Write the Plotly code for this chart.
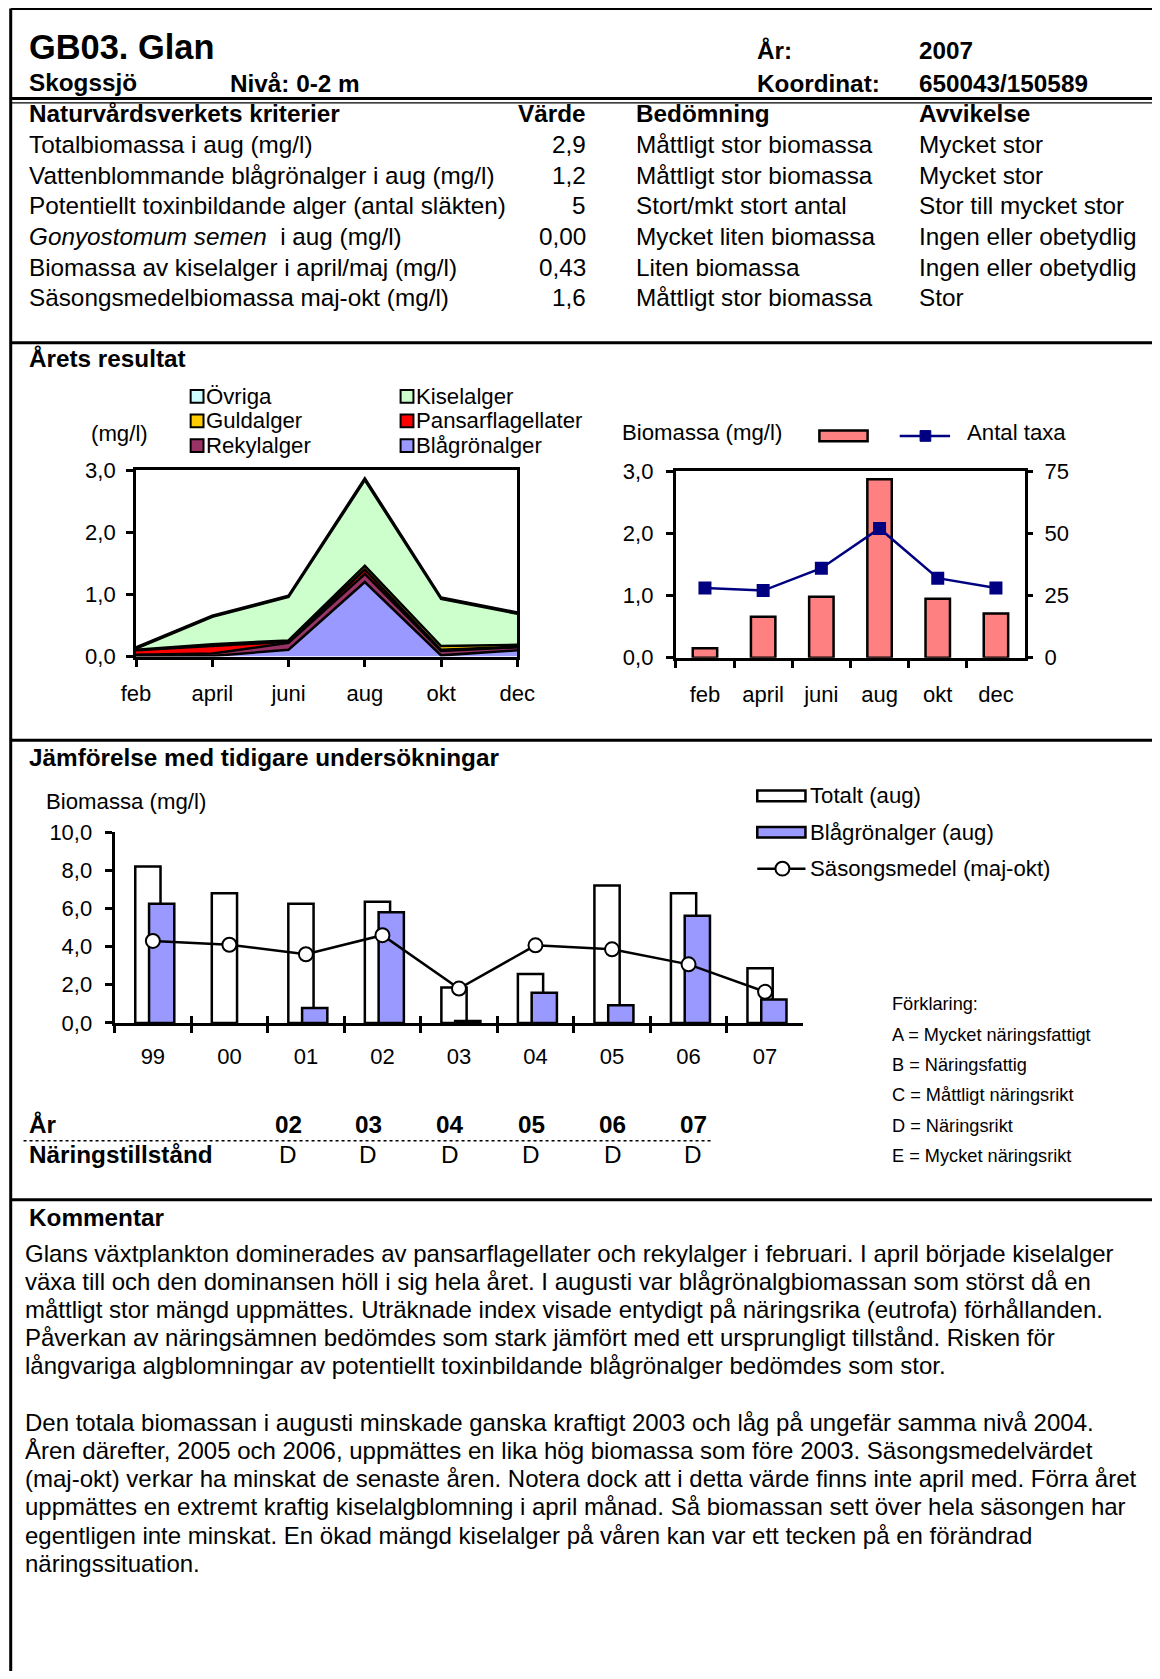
import plotly.graph_objects as go

# ---------------- data ----------------
months = ["feb", "april", "juni", "aug", "okt", "dec"]
# stacked biomass per group (mg/l), bottom -> top
series_names = ["Blågrönalger", "Rekylalger", "Pansarflagellater", "Guldalger", "Kiselalger", "Övriga"]
series_colors = ["#9999FF", "#993366", "#FF0000", "#FFCC00", "#CCFFCC", "#CCFFFF"]
blagronalger = [0.00, 0.01, 0.11, 1.20, 0.02, 0.10]
rekylalger = [0.03, 0.04, 0.11, 0.13, 0.07, 0.05]
pansarflagellater = [0.07, 0.12, 0.02, 0.07, 0.02, 0.01]
guldalger = [0.01, 0.03, 0.02, 0.06, 0.06, 0.03]
kiselalger = [0.02, 0.44, 0.70, 1.38, 0.76, 0.50]
ovriga = [0.02, 0.02, 0.02, 0.03, 0.02, 0.02]
series_values = [blagronalger, rekylalger, pansarflagellater, guldalger, kiselalger, ovriga]

total_biomassa = [0.15, 0.66, 0.98, 2.87, 0.95, 0.71]
antal_taxa = [28, 27, 36, 52, 32, 28]

years = ["99", "00", "01", "02", "03", "04", "05", "06", "07"]
totalt_aug = [8.2, 6.8, 6.25, 6.35, 1.85, 2.57, 7.2, 6.8, 2.87]
blagron_aug = [6.25, None, 0.78, 5.8, 0.1, 1.58, 0.92, 5.62, 1.23]
sasongsmedel = [4.3, 4.1, 3.6, 4.6, 1.8, 4.07, 3.86, 3.07, 1.63]

kriterier = ["Totalbiomassa i aug (mg/l)",
             "Vattenblommande blågrönalger i aug (mg/l)",
             "Potentiellt toxinbildande alger (antal släkten)",
             "<i>Gonyostomum semen</i>\u00a0 i aug (mg/l)",
             "Biomassa av kiselalger i april/maj (mg/l)",
             "Säsongsmedelbiomassa maj-okt (mg/l)"]
varde = ["2,9", "1,2", "5", "0,00", "0,43", "1,6"]
bedomning = ["Måttligt stor biomassa", "Måttligt stor biomassa", "Stort/mkt stort antal",
             "Mycket liten biomassa", "Liten biomassa", "Måttligt stor biomassa"]
avvikelse = ["Mycket stor", "Mycket stor", "Stor till mycket stor",
             "Ingen eller obetydlig", "Ingen eller obetydlig", "Stor"]

nar_years = ["02", "03", "04", "05", "06", "07"]
nar_status = ["D", "D", "D", "D", "D", "D"]

forklaring = ["Förklaring:", "A = Mycket näringsfattigt", "B = Näringsfattig",
              "C = Måttligt näringsrikt", "D = Näringsrikt", "E = Mycket näringsrikt"]

kommentar_p1 = [
    "Glans växtplankton dominerades av pansarflagellater och rekylalger i februari. I april började kiselalger",
    "växa till och den dominansen höll i sig hela året. I augusti var blågrönalgbiomassan som störst då en",
    "måttligt stor mängd uppmättes. Uträknade index visade entydigt på näringsrika (eutrofa) förhållanden.",
    "Påverkan av näringsämnen bedömdes som stark jämfört med ett ursprungligt tillstånd. Risken för",
    "långvariga algblomningar av potentiellt toxinbildande blågrönalger bedömdes som stor.",
]
kommentar_p2 = [
    "Den totala biomassan i augusti minskade ganska kraftigt 2003 och låg på ungefär samma nivå 2004.",
    "Åren därefter, 2005 och 2006, uppmättes en lika hög biomassa som före 2003. Säsongsmedelvärdet",
    "(maj-okt) verkar ha minskat de senaste åren. Notera dock att i detta värde finns inte april med. Förra året",
    "uppmättes en extremt kraftig kiselalgblomning i april månad. Så biomassan sett över hela säsongen har",
    "egentligen inte minskat. En ökad mängd kiselalger på våren kan var ett tecken på en förändrad",
    "näringssituation.",
]

# ---------------- geometry helpers ----------------
W, H, OFF = 1144, 1663, 8
S = 1160 / 1083.0
FONT = "Liberation Sans, Arial, sans-serif"


def px(xd):
    return (xd * S - OFF) / W


def py(yd):
    return 1 - (yd * S - OFF) / H


annotations = []
shapes = []


def txt(x, y, s, size, bold=False, anchor="left"):
    dx = {"left": -1.8, "right": 1.8, "center": 0}[anchor]
    annotations.append(dict(
        x=px(x + dx), y=py(y), xref="paper", yref="paper", showarrow=False,
        text=("<b>%s</b>" % s) if bold else s, xanchor=anchor, yanchor="middle",
        font=dict(size=size, family=FONT, color="black")))


def hline(y, x0, x1, width, dash="solid"):
    shapes.append(dict(type="line", xref="paper", yref="paper", x0=px(x0), x1=px(x1),
                       y0=py(y), y1=py(y), line=dict(color="black", width=width, dash=dash)))


def box(x0, y0, x1, y1, fill, lw=2):
    shapes.append(dict(type="rect", xref="paper", yref="paper", x0=px(x0), x1=px(x1),
                       y0=py(y1), y1=py(y0), fillcolor=fill, line=dict(color="black", width=lw)))


# ---------------- frame ----------------
shapes.append(dict(type="line", xref="paper", yref="paper", x0=px(10), x1=px(10),
                   y0=py(8), y1=-0.01, line=dict(color="black", width=3)))
hline(8, 10, 1100, 3)
hline(92, 10, 1100, 3)
hline(96, 10, 1100, 1.2)
hline(320, 10, 1100, 3)
hline(691, 10, 1100, 3)
hline(1120, 10, 1100, 3)

# ---------------- header ----------------
TB = 24.3
txt(27, 44, "GB03. Glan", 34.4, bold=True)
txt(707, 47, "År:", TB, bold=True)
txt(858, 47, "2007", TB, bold=True)
txt(27, 77, "Skogssjö", TB, bold=True)
txt(215, 78, "Nivå: 0-2 m", TB, bold=True)
txt(707, 78, "Koordinat:", TB, bold=True)
txt(858, 78, "650043/150589", TB, bold=True)

# ---------------- criteria table ----------------
txt(27, 106, "Naturvårdsverkets kriterier", TB, bold=True)
txt(547, 106, "Värde", TB, bold=True, anchor="right")
txt(594, 106, "Bedömning", TB, bold=True)
txt(858, 106, "Avvikelse", TB, bold=True)
row_y = [135, 164, 192, 221, 250, 278]
for i, yy in enumerate(row_y):
    txt(27, yy, kriterier[i], TB)
    txt(547, yy, varde[i], TB, anchor="right")
    txt(594, yy, bedomning[i], TB)
    txt(858, yy, avvikelse[i], TB)

# ---------------- Årets resultat ----------------
CF = 22.2
txt(27, 335, "Årets resultat", TB, bold=True)
txt(85, 405, "(mg/l)", CF)

legend_order = [5, 4, 3, 2, 1, 0]  # Övriga, Kiselalger, Guldalger, Pansar, Rekyl, Blågrön
leg_pos = [(178, 370), (374, 370), (178, 393), (374, 393), (178, 416), (374, 416)]
for (lx, ly), si in zip(leg_pos, legend_order):
    box(lx, ly - 6, lx + 12, ly + 6, series_colors[si], lw=2)
    txt(lx + 14, ly, series_names[si], CF)

# right chart legend
txt(581, 404, "Biomassa (mg/l)", CF)
box(765, 402, 810, 412, "#FF8080", lw=2.5)
shapes.append(dict(type="line", xref="paper", yref="paper", x0=px(840), x1=px(887),
                   y0=py(407), y1=py(407), line=dict(color="#000080", width=2.5)))
shapes.append(dict(type="rect", xref="paper", yref="paper", x0=px(859), x1=px(869),
                   y0=py(412), y1=py(402), fillcolor="#000080", line=dict(color="#000080", width=1)))
txt(903, 404, "Antal taxa", CF)

# ---------------- Jämförelse ----------------
txt(27, 707, "Jämförelse med tidigare undersökningar", TB, bold=True)
txt(43, 748, "Biomassa (mg/l)", CF)
box(707, 738, 752, 748, "white", lw=2.5)
txt(756, 743, "Totalt (aug)", CF)
box(707, 772, 752, 782, "#9999FF", lw=2.5)
txt(756, 777, "Blågrönalger (aug)", CF)
shapes.append(dict(type="line", xref="paper", yref="paper", x0=px(707), x1=px(752),
                   y0=py(811), y1=py(811), line=dict(color="black", width=2.5)))
shapes.append(dict(type="circle", xref="paper", yref="paper", x0=px(724), x1=px(737),
                   y0=py(817.5), y1=py(804.5), fillcolor="white", line=dict(color="black", width=2)))
txt(756, 811, "Säsongsmedel (maj-okt)", CF)

fy = [937, 966, 994, 1022, 1051, 1079]
for yy, s in zip(fy, forklaring):
    txt(833, yy, s, 18.2)

# Näringstillstånd
nx = [269, 344, 420, 496, 572, 647]
txt(27, 1050, "År", TB, bold=True)
txt(27, 1078, "Näringstillstånd", TB, bold=True)
for xx, yr, st in zip(nx, nar_years, nar_status):
    txt(xx, 1050, yr, TB, bold=True, anchor="center")
    txt(xx, 1078, st, TB, anchor="center")
hline(1065, 22, 665, 1.5, dash="dot")

# ---------------- Kommentar ----------------
KF = 24.0
txt(27, 1137, "Kommentar", TB, bold=True)
for i, line in enumerate(kommentar_p1):
    txt(23, 1170 + 26.3 * i, line, KF)
for i, line in enumerate(kommentar_p2):
    txt(23, 1328 + 26.3 * i, line, KF)

# ---------------- traces ----------------
fig = go.Figure()

for name, vals, col in zip(series_names, series_values, series_colors):
    fig.add_trace(go.Scatter(x=months, y=vals, name=name, stackgroup="a", mode="lines",
                             line=dict(color="black", width=2.5), fillcolor=col,
                             xaxis="x", yaxis="y", hoverinfo="x+y+name"))

fig.add_trace(go.Bar(x=months, y=total_biomassa, name="Biomassa (mg/l)", width=0.42,
                     marker=dict(color="#FF8080", line=dict(color="black", width=2.5)),
                     xaxis="x2", yaxis="y2"))
fig.add_trace(go.Scatter(x=months, y=antal_taxa, name="Antal taxa", mode="lines+markers",
                         line=dict(color="#000080", width=2.5),
                         marker=dict(symbol="square", size=13, color="#000080"),
                         xaxis="x2", yaxis="y3"))

fig.add_trace(go.Bar(x=years, y=totalt_aug, name="Totalt (aug)", offset=-0.23, width=0.33,
                     marker=dict(color="white", line=dict(color="black", width=2.5)),
                     xaxis="x4", yaxis="y4"))
fig.add_trace(go.Bar(x=years, y=blagron_aug, name="Blågrönalger (aug)", offset=-0.05, width=0.33,
                     marker=dict(color="#9999FF", line=dict(color="black", width=2.5)),
                     xaxis="x4", yaxis="y4"))
fig.add_trace(go.Scatter(x=years, y=sasongsmedel, name="Säsongsmedel (maj-okt)", mode="lines+markers",
                         line=dict(color="black", width=2.5),
                         marker=dict(symbol="circle", size=14, color="white",
                                     line=dict(color="black", width=2)),
                         xaxis="x4", yaxis="y4"))
fig.add_trace(go.Scatter(x=[None], y=[None], xaxis="x5", yaxis="y4", showlegend=False,
                         hoverinfo="skip"))

ax_common = dict(showgrid=False, zeroline=False, showline=True, linecolor="black", linewidth=3,
                 ticks="outside", ticklen=7, tickwidth=2.5, tickcolor="black", automargin=False,
                 tickfont=dict(size=22, family=FONT, color="black"))

fig.update_layout(
    template="none",
    width=W, height=H, margin=dict(l=0, r=0, t=0, b=0, pad=0, autoexpand=False),
    paper_bgcolor="white", plot_bgcolor="white", separators=", ",
    showlegend=False, barmode="overlay",
    font=dict(family=FONT, color="black", size=22),
    xaxis=dict(ax_common, domain=[px(127), px(483)], type="category", range=[0, 5],
               mirror=True, anchor="y", ticklabelstandoff=8),
    yaxis=dict(ax_common, domain=[py(613), py(439)], range=[0, 3], dtick=1, tickformat=".1f",
               mirror=True, anchor="x", ticklabelstandoff=6),
    xaxis2=dict(ax_common, domain=[px(631), px(957)], type="category", range=[-0.5, 5.5],
                tickson="boundaries", mirror=True, anchor="y2", ticklabelstandoff=15),
    yaxis2=dict(ax_common, domain=[py(614), py(440)], range=[0, 3], dtick=1, tickformat=".1f",
                mirror=True, anchor="x2", ticklabelstandoff=8),
    yaxis3=dict(ax_common, overlaying="y2", side="right", range=[0, 75], dtick=25,
                anchor="x2", showline=False, ticklabelstandoff=7),
    xaxis4=dict(ax_common, domain=[px(107), px(750)], type="category", range=[-0.5, 8.5],
                tickson="boundaries", anchor="y4", ticklabelstandoff=12),
    yaxis4=dict(ax_common, domain=[py(955), py(777)], range=[0, 10], dtick=2, tickformat=".1f",
                anchor="x4", ticklabelstandoff=8),
    xaxis5=dict(overlaying="x4", anchor="y4", range=[-0.5, 8.5],
                tickvals=[i - 0.5 for i in range(len(years) + 1)], ticks="inside", ticklen=7,
                tickwidth=2.5, tickcolor="black", showticklabels=False, showline=False,
                showgrid=False, zeroline=False, automargin=False),
    annotations=annotations, shapes=shapes,
)

fig.write_html("out.html")
